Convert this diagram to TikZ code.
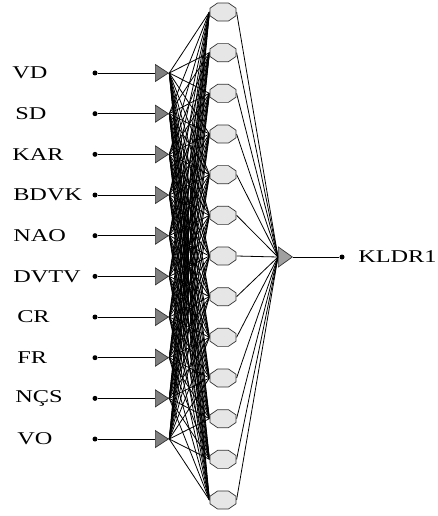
\documentclass[tikz,border=0pt]{standalone}
\usepackage{fontspec}
\setmainfont{Liberation Serif}
\usetikzlibrary{shapes.geometric,backgrounds}
\definecolor{trigray}{HTML}{7F7F7F}
\definecolor{outgray}{HTML}{A0A0A0}
\definecolor{hidgray}{HTML}{E6E6E6}
\tikzset{
  lbl/.style={anchor=west,inner sep=0pt,font=\fontsize{18}{18}\selectfont,xscale=1.35},
  dotnode/.style={circle,fill=black,inner sep=0pt,minimum size=5pt},
  intri/.style={isosceles triangle,isosceles triangle stretches,draw=black!80,fill=trigray,
    line width=0.7pt,inner sep=0pt,minimum width=17pt,minimum height=13pt},
  outtri/.style={isosceles triangle,isosceles triangle stretches,draw=black!80,fill=outgray,
    line width=0.7pt,inner sep=0pt,minimum width=20pt,minimum height=14pt},
  hid/.style={regular polygon,regular polygon sides=8,draw=black!80,fill=hidgray,
    line width=0.7pt,inner sep=0pt,minimum size=21pt,xscale=1.35,yscale=0.93},
  wire/.style={line width=0.8pt,black},
}
\begin{document}
\begin{tikzpicture}[x=1pt,y=-1pt]
\useasboundingbox (0,0) rectangle (437,516);
% hidden nodes
\foreach \i in {0,...,12}{
  \node[hid] (h\i) at (223,{12+\i*40.667}) {};
}
% inputs
\foreach \lab/\lx [count=\j from 0] in {VD/12,SD/15,KAR/12,BDVK/13,NAO/13,DVTV/13,CR/17,FR/17,NÇS/15,VO/17}{
  \node[lbl] (l\j) at (\lx,{73+\j*40.67}) {\lab};
  \node[dotnode] (d\j) at (95,{73+\j*40.67}) {};
  \node[intri,anchor=west] (t\j) at (155,{73+\j*40.67}) {};
  \draw[wire] (d\j) -- (t\j.west);
}
% output
\node[outtri,anchor=west] (o) at (278,257) {};
\node[dotnode] (od) at (342,257) {};
\node[lbl] (ol) at (358,257) {KLDR1};
\draw[wire] (o.apex) -- (od);
\begin{pgfonlayer}{background}
\foreach \j in {0,...,9}{
  \foreach \i in {0,...,12}{
    \draw[wire] (t\j.apex) -- (h\i.west);
  }
}
\foreach \i in {0,...,12}{
  \draw[wire] (h\i.east) -- (o.west);
}
\end{pgfonlayer}
\end{tikzpicture}
\end{document}
